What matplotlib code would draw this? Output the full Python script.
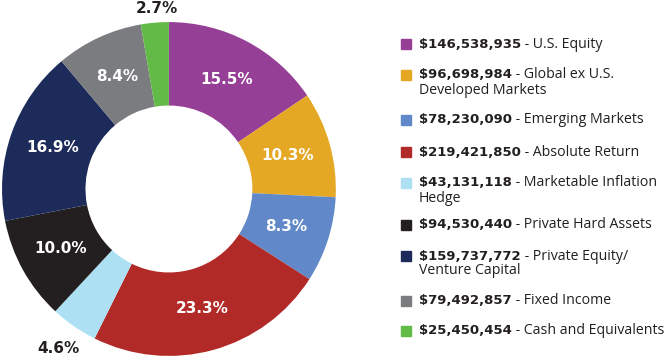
import matplotlib
matplotlib.use("Agg")
import matplotlib.pyplot as plt
import numpy as np

# data
names = ['U.S. Equity', 'Global ex U.S.\nDeveloped Markets', 'Emerging Markets',
         'Absolute Return', 'Marketable Inflation\nHedge', 'Private Hard Assets',
         'Private Equity/\nVenture Capital', 'Fixed Income', 'Cash and Equivalents']
amounts = [146538935, 96698984, 78230090, 219421850, 43131118,
           94530440, 159737772, 79492857, 25450454]
colors = ['#963f96', '#e5a825', '#6189c9', '#b22a27', '#ace0f2',
          '#231f20', '#1c2b5a', '#7b7c80', '#63bb47']

plt.rcParams['font.family'] = ['Open Sans', 'DejaVu Sans']
bold_font = dict(family='DejaVu Sans', fontweight='bold')

fig = plt.figure(figsize=(6.69, 3.6), dpi=100)
ax = fig.add_axes([0.003, 0.011, 0.499, 0.928])

wedges, _ = ax.pie(amounts, colors=colors, startangle=90, counterclock=False,
                   radius=1.0, wedgeprops=dict(width=0.5, linewidth=0))
ax.set_aspect('equal')
ax.set_xlim(-1, 1)
ax.set_ylim(-1, 1)

total = sum(amounts)
for w, a in zip(wedges, amounts):
    pct = a / total * 100
    mid = np.deg2rad((w.theta1 + w.theta2) / 2)
    if pct < 5:
        continue
    r = 0.74
    ax.text(r * np.cos(mid), r * np.sin(mid), f'{pct:.1f}%', ha='center', va='center',
            color='white', fontsize=11, **bold_font)

# small slices labelled outside
ax.text(-0.07, 1.08, f'{amounts[8] / total * 100:.1f}%', ha='center', va='center',
        fontsize=11, color='#231f20', clip_on=False, **bold_font)
ax.text(-0.66, -0.955, f'{amounts[4] / total * 100:.1f}%', ha='center', va='center',
        fontsize=11, color='#231f20', clip_on=False, **bold_font)

# legend
rows_y = [44, 75, 120, 152, 183, 225, 256, 301, 331]
for y, name, a, c in zip(rows_y, names, amounts, colors):
    yf = 1 - y / 360
    fig.patches.append(plt.Rectangle((401 / 669, yf - 5 / 360), 10 / 669, 10 / 360,
                                     transform=fig.transFigure, color=c))
    lines = name.split('\n')
    t = fig.text(419 / 669, yf, f'${a:,}', fontsize=9.5, va='center', ha='left',
                 color='#231f20', **bold_font)
    fig.add_artist(matplotlib.text.Annotation(' - ' + lines[0], xy=(1, 0.5), xycoords=t,
                                              fontsize=10.2, va='center', ha='left',
                                              color='#231f20', annotation_clip=False))
    if len(lines) > 1:
        fig.text(419 / 669, yf - 15 / 360, lines[1], fontsize=10.2, va='center', ha='left',
                 color='#231f20')

fig.savefig('out.png', dpi=100)
